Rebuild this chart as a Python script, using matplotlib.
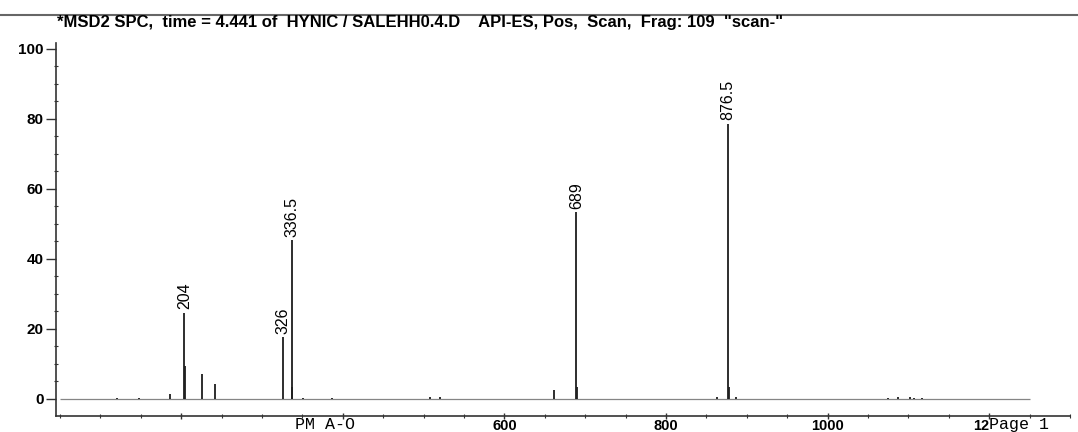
import matplotlib
matplotlib.use("Agg")
import matplotlib.pyplot as plt
from matplotlib.lines import Line2D
from matplotlib.ticker import MultipleLocator, FixedLocator

# ---- data ----
peak_mz = [121, 148, 186, 204, 205, 226, 242, 326, 336.5, 337.5, 351, 386,
           508, 520, 661, 689, 690, 863, 876.5, 877.5, 886,
           1075, 1087, 1102, 1107, 1117]
peak_int = [0.3, 0.4, 1.5, 24.7, 9.4, 7.2, 4.3, 17.6, 45.3, 3.4, 0.4, 0.4,
            0.5, 0.6, 2.5, 53.4, 3.5, 0.5, 78.7, 3.5, 0.6,
            0.4, 0.5, 0.5, 0.3, 0.3]
labeled_mz = [204, 326, 336.5, 689, 876.5]
labeled_int = [24.7, 17.6, 45.3, 53.4, 78.7]
labeled_txt = ["204", "326", "336.5", "689", "876.5"]
scan_start, scan_end = 50, 1250
y_ticks = [0, 20, 40, 60, 80, 100]
x_major = [200, 400, 600, 800, 1000, 1200]
x_labels = ["", "", "600", "800", "1000", ""]
title = '*MSD2 SPC,  time = 4.441 of  HYNIC / SALEHH0.4.D    API-ES, Pos,  Scan,  Frag: 109  "scan-"'

W, H = 1078, 432
fig = plt.figure(figsize=(W / 100, H / 100), dpi=100)
ax = fig.add_axes([56 / W, 16 / H, (1070 - 56) / W, (416 - 43) / H])
ax.set_xlim(45, 1300)
ax.set_ylim(-4.86, 101.7)

ink = "#1e1e1e"
ax.hlines(0, scan_start, scan_end, color="#858585", lw=0.9)
ax.vlines(peak_mz, 0, peak_int, color=ink, lw=1.3)

narrow = ["Liberation Sans Narrow", "Liberation Sans", "DejaVu Sans"]
for mz, it, t in zip(labeled_mz, labeled_int, labeled_txt):
    ax.annotate(t, (mz, it), xytext=(0, 2.5), textcoords="offset points",
                rotation=90, ha="center", va="bottom", fontsize=11.5,
                family=narrow, color="#000000")

for s in ["top", "right"]:
    ax.spines[s].set_visible(False)
for s in ["left", "bottom"]:
    ax.spines[s].set_color("#333333")
    ax.spines[s].set_linewidth(1.2)

sans = ["Liberation Sans", "DejaVu Sans"]
ax.yaxis.set_major_locator(FixedLocator(y_ticks))
ax.yaxis.set_minor_locator(MultipleLocator(5))
ax.set_yticklabels([str(v) for v in y_ticks], fontsize=11, fontweight="bold", family=sans)
ax.tick_params(axis="y", which="major", length=7, width=1, pad=2, color="#333333")
ax.tick_params(axis="y", which="minor", length=3, width=0.8, direction="inout", color="#333333")

ax.xaxis.set_major_locator(FixedLocator(x_major))
ax.xaxis.set_minor_locator(MultipleLocator(50))
ax.set_xticklabels(x_labels, fontsize=10.5, fontweight="bold", family=sans)
ax.tick_params(axis="x", which="major", length=5, width=1, pad=-0.5, direction="inout", color="#333333")
ax.tick_params(axis="x", which="minor", length=3, width=0.8, direction="inout", color="#333333")

mono = ["Liberation Mono", "DejaVu Sans Mono"]
trans = ax.get_xaxis_transform()
ax.annotate("12", (1200, 0), xycoords=trans, xytext=(0, -2.2), textcoords="offset points",
            ha="right", va="top", fontsize=10.5, fontweight="bold", family=sans)
ax.annotate("Page 1", (1200, 0), xycoords=trans, xytext=(0, -0.8), textcoords="offset points",
            ha="left", va="top", fontsize=12, family=mono)
ax.annotate("PM A-O", (378, 0), xycoords=trans, xytext=(0, -0.8), textcoords="offset points",
            ha="center", va="top", fontsize=12, family=mono)

fig.text(57 / W, 1 - 27 / H, title, ha="left", va="baseline", fontsize=12,
         fontweight="bold", family=sans)
fig.add_artist(Line2D([0, 1], [1 - 14.5 / H, 1 - 14.5 / H], transform=fig.transFigure,
                      color="#666666", lw=1.5))

fig.savefig("out.png", dpi=100)
